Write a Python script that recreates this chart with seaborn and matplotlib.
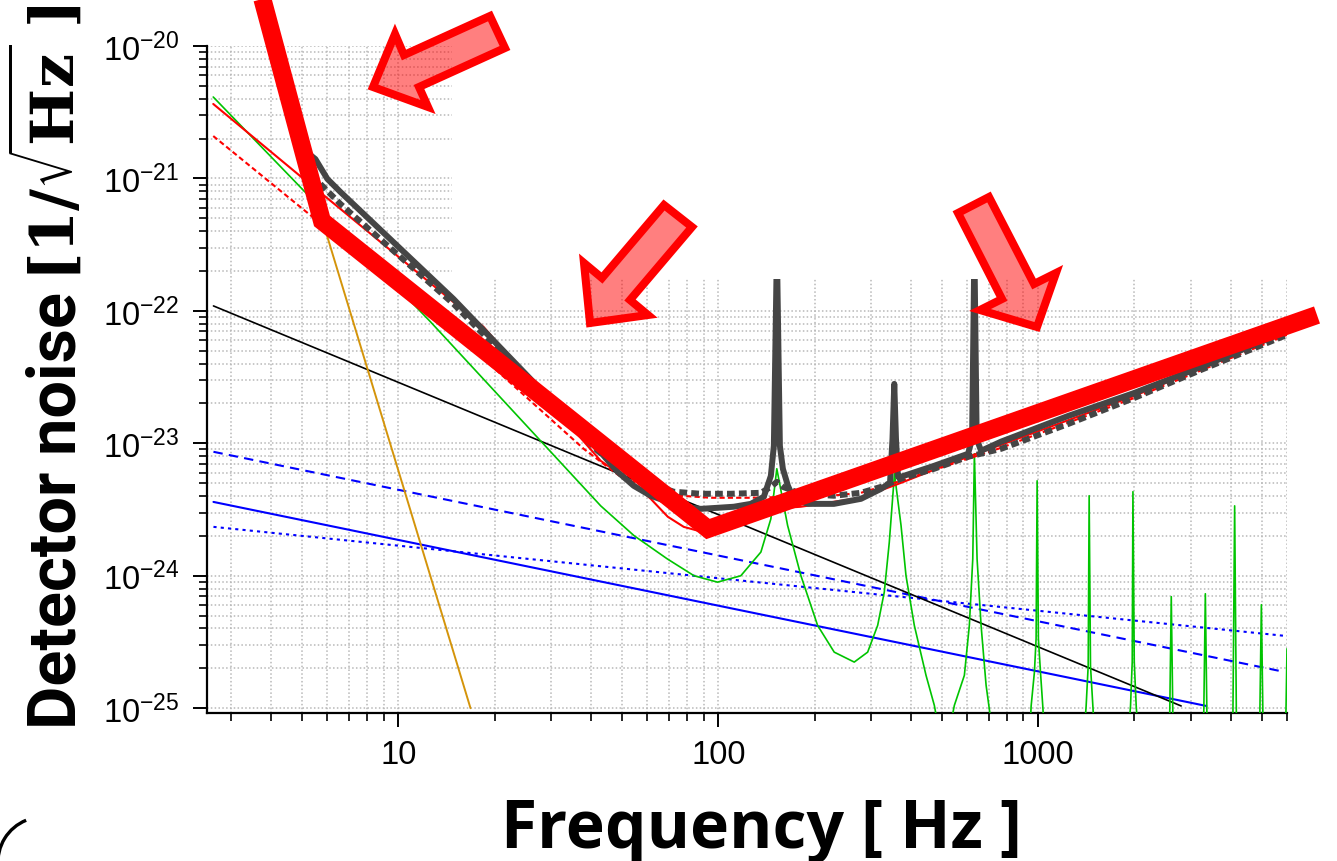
import numpy as np
import matplotlib
matplotlib.use("Agg")
import matplotlib.pyplot as plt
import matplotlib.ticker as mticker
from matplotlib import font_manager as fm
from matplotlib.lines import Line2D
from matplotlib.patches import Polygon, Rectangle, Arc
from matplotlib.transforms import IdentityTransform
import seaborn as sns

# ---------------- data ----------------
# total noise, solid thick gray
total_a_freq = [5.116, 5.499, 5.995, 6.583, 14.86, 41.96, 48.46, 54.39, 61.48, 69.51, 77.99, 88.15,
                99.64, 111.8, 126.4, 138.8, 146.0, 149.2, 152.5, 155.8, 159.2, 165.1, 172.3, 190.6,
                229.9, 279.3, 322.7, 344.3, 350.5, 355.0, 359.4, 364.6, 372.6, 472.7, 603.9, 621.6,
                632.0, 642.6, 663.2, 766.1, 1242, 1998, 3237, 6000]
total_a_asd = [1.61e-21, 1.40e-21, 9.91e-22, 7.91e-22, 1.23e-22, 9.09e-24, 6.09e-24, 4.78e-24,
               4.02e-24, 3.62e-24, 3.32e-24, 3.20e-24, 3.26e-24, 3.32e-24, 3.49e-24, 3.95e-24,
               5.68e-24, 9.57e-24, 2.94e-22, 9.57e-24, 6.42e-24, 4.78e-24, 3.81e-24, 3.49e-24,
               3.49e-24, 3.81e-24, 4.53e-24, 5.03e-24, 1.08e-23, 2.81e-23, 1.08e-23, 5.59e-24,
               5.59e-24, 6.76e-24, 8.34e-24, 1.08e-23, 2.94e-22, 1.08e-23, 8.78e-24, 1.03e-23,
               1.61e-23, 2.40e-23, 3.78e-23, 7.06e-23]
# total noise, dotted thick gray
total_b_freq = [5.700, 6.583, 14.86, 41.96, 49.52, 61.48, 72.58, 88.15, 109.4, 135.9, 146.0, 152.5,
                159.2, 181.2, 229.9, 279.3, 322.7, 372.6, 472.7, 603.9, 766.1, 1242, 1998, 3237, 6000]
total_b_asd = [9.09e-22, 6.42e-22, 1.13e-22, 8.78e-24, 6.42e-24, 4.95e-24, 4.31e-24, 4.16e-24,
               4.16e-24, 4.23e-24, 4.69e-24, 5.12e-24, 4.69e-24, 4.16e-24, 4.02e-24, 4.23e-24,
               4.69e-24, 5.40e-24, 6.42e-24, 7.91e-24, 9.09e-24, 1.40e-23, 2.20e-23, 3.59e-23,
               6.59e-23]
# red thin solid
red_a_freq = [2.636, 4.935, 6.583, 18.45, 42.88, 54.39, 61.48, 69.51, 77.99, 86.27, 96.12, 117.6,
              146.0, 181.2, 229.9, 279.3, 372.6, 472.7, 603.9, 766.1, 1998, 6000]
red_a_asd = [3.65e-21, 1.04e-21, 5.89e-22, 7.57e-23, 7.38e-24, 4.95e-24, 3.81e-24, 2.79e-24,
             2.34e-24, 2.19e-24, 2.34e-24, 2.99e-24, 3.20e-24, 3.32e-24, 3.62e-24, 3.88e-24,
             5.03e-24, 6.31e-24, 7.91e-24, 9.74e-24, 2.28e-23, 6.82e-23]
# red thin dashed
red_b_freq = [2.636, 5.579, 14.55, 37.94, 49.52, 61.48, 76.33, 94.75, 126.4, 168.7, 224.9, 279.3,
              372.6, 766.1, 1998, 6000]
red_b_asd = [2.09e-21, 4.78e-22, 7.31e-23, 9.09e-24, 5.59e-24, 4.53e-24, 4.02e-24, 3.88e-24,
             3.88e-24, 3.95e-24, 4.02e-24, 4.23e-24, 5.21e-24, 9.25e-24, 2.20e-23, 6.59e-23]
# green (suspension / mirror resonances)
green_freq = [2.636, 12.6, 42.9, 54.5, 69.3, 84.0, 99.4, 117.6, 135.9, 146.0, 152.4, 164.7, 181.3,
              204.4, 230.4, 266.1, 293.1, 315.0, 330.4, 342.5, 355.5, 372.7, 386.3, 410.1, 446.2,
              473.7, 507.9, 547.1, 588.0, 609.5, 624.7, 632.0, 644.4, 663.2, 687.6, 738.6,
              937.5, 951, 973.8, 985.6, 992.9, 1002, 1017, 1034, 1052,
              1383, 1413, 1434, 1444, 1458, 1483, 1508,
              1899, 1945, 1969, 1979, 1998, 2026, 2071,
              2571, 2608, 2646,
              3285, 3333, 3381,
              4057, 4116, 4175,
              4918, 4989, 5061,
              5930, 6000]
green_asd = [4.12e-21, 8.26e-23, 3.37e-24, 2.01e-24, 1.34e-24, 1.00e-24, 8.95e-25, 1.00e-24,
             1.51e-24, 2.69e-24, 6.43e-24, 2.40e-24, 1.00e-24, 4.22e-25, 2.65e-25, 2.23e-25,
             2.65e-25, 4.22e-25, 7.53e-25, 1.79e-24, 5.89e-24, 2.40e-24, 1.00e-24, 4.22e-25,
             1.77e-25, 1.05e-25, 4.16e-26, 1.05e-25, 1.77e-25, 4.22e-25, 1.34e-24, 8.34e-24,
             1.34e-24, 4.22e-25, 1.49e-25, 4.16e-26,
             5e-26, 1.04e-25, 1.88e-25, 3.35e-25, 5.21e-24, 3.35e-25, 1.88e-25, 1.04e-25, 5e-26,
             5e-26, 1.04e-25, 2.09e-25, 4.02e-24, 2.09e-25, 1.04e-25, 5e-26,
             5e-26, 1.04e-25, 2.24e-25, 4.31e-24, 2.24e-25, 1.04e-25, 5e-26,
             5e-26, 6.95e-25, 5e-26,
             5e-26, 7.31e-25, 5e-26,
             5e-26, 3.37e-24, 5e-26,
             5e-26, 6.04e-25, 5e-26,
             5e-26, 2.81e-25]
# seismic (orange)
seismic_freq = [3.95, 16.8]
seismic_asd = [1.0e-20, 1.0e-25]
# black thin
black_freq = [2.64, 2800]
black_asd = [1.09e-22, 1.04e-25]
# blue solid / dashed / dotted
blue_a_freq = [2.64, 3357]
blue_a_asd = [3.61e-24, 1.04e-25]
blue_b_freq = [2.64, 5890]
blue_b_asd = [8.63e-24, 1.88e-25]
blue_c_freq = [2.64, 5890]
blue_c_asd = [2.34e-24, 3.52e-25]

x_ticks = [10, 100, 1000]
x_tick_labels = ["10", "100", "1000"]
y_ticks = [1e-25, 1e-24, 1e-23, 1e-22, 1e-21, 1e-20]
y_tick_labels = [r"$\mathregular{10^{-25}}$", r"$\mathregular{10^{-24}}$", r"$\mathregular{10^{-23}}$",
                 r"$\mathregular{10^{-22}}$", r"$\mathregular{10^{-21}}$", r"$\mathregular{10^{-20}}$"]
x_label = "Frequency [ Hz ]"
y_label_text = "Detector noise"
y_label_unit = r"$\mathbf{[1/\sqrt{Hz}\ ]}$"

# ---------------- style ----------------
sns.set_theme(style="ticks")
names = {f.name for f in fm.fontManager.ttflist}
tick_font = "Liberation Sans Narrow" if "Liberation Sans Narrow" in names else "Liberation Sans"
tick_size = 26 if tick_font == "Liberation Sans Narrow" else 23.5
plt.rcParams["font.family"] = [tick_font, "DejaVu Sans"]
plt.rcParams["mathtext.fontset"] = "cm"

W, H = 1337, 862
fig = plt.figure(figsize=(W / 100, H / 100), dpi=100)
fig.patch.set_facecolor("white")

def fx(px):
    return px / W

def fy(py):
    return 1 - py / H

ax = fig.add_axes([fx(207), fy(714), fx(1287) - fx(207), fy(47) - fy(714)])
ax.set_xscale("log")
ax.set_yscale("log")

# ---------------- curves ----------------
common = dict(ax=ax, sort=False, estimator=None, legend=False)
sns.lineplot(x=blue_c_freq, y=blue_c_asd, color="#0000ff", lw=1.5, linestyle=(0, (1.5, 2.0)), zorder=2, **common)
sns.lineplot(x=blue_b_freq, y=blue_b_asd, color="#0000ff", lw=1.5, linestyle=(0, (4.5, 3.0)), zorder=2, **common)
sns.lineplot(x=blue_a_freq, y=blue_a_asd, color="#0000ff", lw=1.5, zorder=2, **common)
sns.lineplot(x=black_freq, y=black_asd, color="black", lw=1.2, zorder=2, **common)
sns.lineplot(x=seismic_freq, y=seismic_asd, color="#d4940a", lw=1.4, zorder=2, **common)
sns.lineplot(x=green_freq, y=green_asd, color="#00c400", lw=1.2, zorder=3, **common)
sns.lineplot(x=red_b_freq, y=red_b_asd, color="#ff0000", lw=1.5, linestyle=(0, (2.5, 1.5)), zorder=4, **common)
sns.lineplot(x=red_a_freq, y=red_a_asd, color="#ff0000", lw=1.5, zorder=4, **common)
sns.lineplot(x=total_b_freq, y=total_b_asd, color="#454545", lw=4.3, linestyle=(0, (1.3, 0.7)), zorder=5, **common)
sns.lineplot(x=total_a_freq, y=total_a_asd, color="#454545", lw=4.3, zorder=5, **common)

ax.set_xlim(2.52, 6000)
ax.set_ylim(9.2e-26, 1e-20)

ax.xaxis.set_major_locator(mticker.FixedLocator(x_ticks))
ax.xaxis.set_major_formatter(mticker.FixedFormatter(x_tick_labels))
ax.yaxis.set_major_locator(mticker.FixedLocator(y_ticks))
ax.yaxis.set_major_formatter(mticker.FixedFormatter(y_tick_labels))
ax.xaxis.set_minor_locator(mticker.LogLocator(base=10, subs=np.arange(2, 10), numticks=100))
ax.yaxis.set_minor_locator(mticker.LogLocator(base=10, subs=np.arange(2, 10), numticks=100))
ax.xaxis.set_minor_formatter(mticker.NullFormatter())
ax.yaxis.set_minor_formatter(mticker.NullFormatter())

ax.tick_params(which="major", direction="out", length=10, width=1.4, color="black",
               labelsize=tick_size, labelcolor="black", bottom=True, left=True)
ax.tick_params(axis="y", which="major", pad=10)
ax.tick_params(axis="x", which="major", pad=9)
ax.tick_params(which="minor", direction="out", length=6, width=1.2, color="black", bottom=True, left=True)

ax.grid(True, which="both", linestyle=(0, (1, 1.5)), color="#b8b8b8", linewidth=1.1)
ax.set_axisbelow(True)
for s in ["top", "right"]:
    ax.spines[s].set_visible(False)
for s in ["left", "bottom"]:
    ax.spines[s].set_color("black")
    ax.spines[s].set_linewidth(1.6)
ax.set_facecolor("white")

# ---------------- white cover over the upper-right of the plot ----------------
fig.add_artist(Rectangle((fx(452), fy(280)), 1 - fx(452), 1 - fy(280), transform=fig.transFigure,
                         facecolor="white", edgecolor="none", zorder=5))

# ---------------- red overlay annotations ----------------
vx = [257, 322, 708, 1317]
vy = [-20, 222, 530, 316]
fig.add_artist(Line2D([fx(v) for v in vx], [fy(v) for v in vy], transform=fig.transFigure,
                      color="#ff0000", lw=13, solid_joinstyle="miter", solid_capstyle="butt", zorder=6))

arrows = [
    [(373, 88), (395, 35), (404, 56), (490, 17), (505, 49), (419, 88), (428, 108)],
    [(590, 324), (584, 264), (602, 279), (664, 206), (692, 228), (630, 301), (648, 316)],
    [(1037, 328), (980, 311), (1002, 300), (958, 214), (989, 198), (1034, 285), (1056, 274)],
]
for pts in arrows:
    fig.add_artist(Polygon([(fx(a), fy(b)) for a, b in pts], closed=True, transform=fig.transFigure,
                           facecolor=(1, 0, 0, 0.5), edgecolor="#ff0000", lw=5.8,
                           joinstyle="miter", zorder=7))

# frame fragment at the bottom-left corner
fig.add_artist(Arc((43, H - 863), 90, 90, theta1=112, theta2=185, transform=IdentityTransform(),
                   color="black", lw=2.4, zorder=7))

# ---------------- axis labels ----------------
fig.text(fx(75), fy(729), y_label_text, rotation=90, rotation_mode="anchor", ha="left", va="baseline",
         fontsize=48, fontweight="bold", family=["Roboto", "DejaVu Sans"], color="black")
fig.text(fx(75), fy(4), y_label_unit, rotation=90, rotation_mode="anchor", ha="right", va="baseline",
         fontsize=43.5, fontweight="bold", math_fontfamily="dejavuserif", color="black")
fig.text(fx(761), fy(848), x_label, ha="center", va="baseline", fontsize=47.5, fontweight="bold",
         family=["Open Sans", "DejaVu Sans"], color="black")

fig.savefig("out.png", dpi=100, facecolor="white")
